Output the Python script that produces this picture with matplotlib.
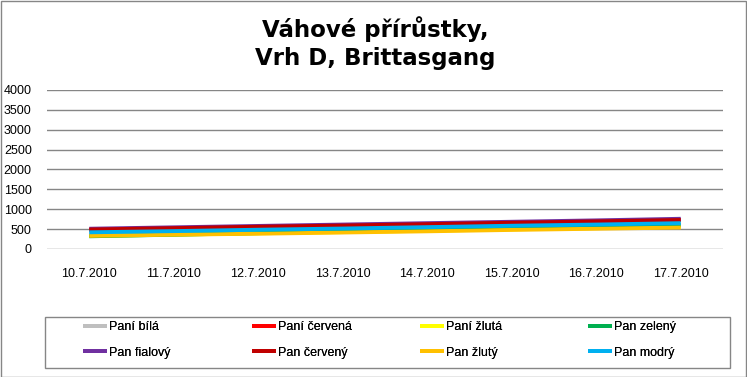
import matplotlib
matplotlib.use("Agg")
import matplotlib.pyplot as plt
from matplotlib.patches import Rectangle

dates = ["10.7.2010", "11.7.2010", "12.7.2010", "13.7.2010",
         "14.7.2010", "15.7.2010", "16.7.2010", "17.7.2010"]

pani_bila = [380, 415, 450, 490, 525, 565, 600, 640]
pani_cervena = [480, 515, 550, 585, 620, 655, 690, 730]
pani_zluta = [330, 360, 395, 425, 460, 495, 525, 560]
pan_zeleny = [320, 360, 400, 440, 480, 520, 560, 600]
pan_fialovy = [510, 545, 580, 615, 650, 685, 720, 760]
pan_cerveny = [490, 525, 560, 590, 625, 660, 695, 730]
pan_zluty = [330, 360, 385, 415, 445, 480, 510, 540]
pan_modry = [420, 450, 485, 515, 550, 585, 615, 650]

series_names = ["Paní bílá", "Paní červená", "Paní žlutá", "Pan zelený",
                "Pan fialový", "Pan červený", "Pan žlutý", "Pan modrý"]
series_values = [pani_bila, pani_cervena, pani_zluta, pan_zeleny,
                 pan_fialovy, pan_cerveny, pan_zluty, pan_modry]
colors = ["#BFBFBF", "#FF0000", "#FFFF00", "#00B050",
          "#7030A0", "#C00000", "#FFC000", "#00B0F0"]

yticks = [0, 500, 1000, 1500, 2000, 2500, 3000, 3500, 4000]

W, H = 747, 377
fig = plt.figure(figsize=(W / 100, H / 100), dpi=100)
ax = fig.add_axes([47 / W, 1 - 249 / H, (723 - 47) / W, (249 - 90) / H])

x = list(range(len(dates)))
handles = []
for name, vals, c in zip(series_names, series_values, colors):
    h, = ax.plot(x, vals, color=c, lw=2.8, label=name, solid_capstyle="butt")
    handles.append(h)

ax.set_xlim(-0.5, len(dates) - 0.5)
ax.set_ylim(0, 4000)
ax.set_yticks(yticks)
ax.set_yticklabels([str(v) for v in yticks], fontsize=9, family="Liberation Sans")
ax.set_xticks(x)
ax.set_xticklabels(dates, fontsize=9, family="Liberation Sans")
ax.tick_params(axis="both", length=0)
ax.tick_params(axis="y", pad=11)
ax.tick_params(axis="x", pad=14)
ax.grid(axis="y", color="#868686", lw=1)
ax.set_axisbelow(True)
for s in ax.spines.values():
    s.set_visible(False)

fig.text(375 / W, 1 - 43 / H, "Váhové přírůstky,\nVrh D, Brittasgang",
         ha="center", va="center", fontsize=16.5, fontweight="bold",
         family="DejaVu Sans", linespacing=1.3)

# legend: 4 columns, 2 rows, filled row-wise
col_x = [83, 252, 420, 588]
for ci, cx in enumerate(col_x):
    idx = [ci, ci + 4]
    leg = fig.legend(handles=[handles[i] for i in idx],
                     labels=[series_names[i] for i in idx],
                     loc="center left", bbox_to_anchor=(cx / W, 1 - 340 / H),
                     prop={"family": "Liberation Sans", "size": 9},
                     frameon=False, handlelength=1.9, handletextpad=0.15,
                     borderpad=0, labelspacing=1.05, borderaxespad=0)
    for lh in leg.legend_handles:
        lh.set_linewidth(2.8)
    fig.add_artist(leg)

fig.add_artist(Rectangle((45 / W, 1 - 368 / H), (730 - 45) / W, (368 - 317) / H,
                         transform=fig.transFigure, fill=False,
                         edgecolor="#868686", lw=1))

fig.add_artist(Rectangle((0.5 / W, 0.5 / H), (W - 1.5) / W, (H - 1.5) / H,
                         transform=fig.transFigure, fill=False,
                         edgecolor="#868686", lw=1))

fig.savefig("out.png", dpi=100)
